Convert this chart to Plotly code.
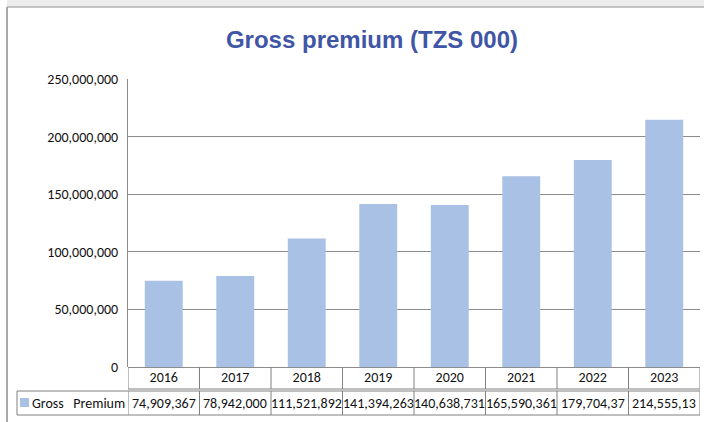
import plotly.graph_objects as go

years = ["2016", "2017", "2018", "2019", "2020", "2021", "2022", "2023"]
gross_premium = [74909367, 78942000, 111521892, 141394263, 140638731, 165590361, 179704370, 214555130]
table_labels = ["74,909,367", "78,942,000", "111,521,892", "141,394,263", "140,638,731",
                "165,590,361", "179,704,37", "214,555,13"]
series_name = "Gross\u00a0\u00a0 Premium"
y_ticks = [0, 50000000, 100000000, 150000000, 200000000, 250000000]
y_tick_text = ["0", "50,000,000", "100,000,000", "150,000,000", "200,000,000", "250,000,000"]

W, H = 704, 422
L, R, T, B = 128, 4, 79, 55
pw, ph = W - L - R, H - T - B


def px_x(p):
    return (p - L) / pw


def px_y(p):
    return (H - B - p) / ph


FONT = "Liberation Sans Narrow, Arial Narrow, Carlito, Calibri, Liberation Sans, sans-serif"
BAR = "#aac1e6"
GRID = "#8c8c8c"
TBL = "#808080"

fig = go.Figure()
fig.add_trace(go.Bar(x=years, y=gross_premium, name=series_name,
                     marker=dict(color=BAR, line=dict(width=0)), width=0.53,
                     showlegend=False))

shapes = []
# outer frame
shapes.append(dict(type="rect", xref="paper", yref="paper",
                   x0=px_x(7), x1=px_x(W), y0=px_y(0), y1=px_y(7),
                   fillcolor="#ececec", line=dict(width=0), layer="below"))
shapes.append(dict(type="line", xref="paper", yref="paper",
                   x0=px_x(7), x1=px_x(W), y0=px_y(7), y1=px_y(7),
                   line=dict(color="#b0b0b0", width=1.5)))
shapes.append(dict(type="line", xref="paper", yref="paper",
                   x0=px_x(7), x1=px_x(7), y0=px_y(7), y1=px_y(H),
                   line=dict(color="#a8a8a8", width=2)))

# data table grid
r1_top, r1_bot = px_y(367), px_y(389)
r2_top, r2_bot = px_y(391), px_y(415)
n = len(years)
for i in range(n + 1):
    xb = i - 0.5
    shapes.append(dict(type="line", xref="x", yref="paper", x0=xb, x1=xb,
                       y0=r1_top, y1=r1_bot, line=dict(color=TBL, width=1)))
    shapes.append(dict(type="line", xref="x", yref="paper", x0=xb, x1=xb,
                       y0=r2_top, y1=r2_bot, line=dict(color=TBL, width=1)))
shapes.append(dict(type="line", xref="paper", yref="paper", x0=0, x1=1,
                   y0=r1_bot, y1=r1_bot, line=dict(color=TBL, width=1)))
for yy in (r2_top, r2_bot):
    shapes.append(dict(type="line", xref="paper", yref="paper", x0=px_x(17), x1=1,
                       y0=yy, y1=yy, line=dict(color=TBL, width=1)))
shapes.append(dict(type="line", xref="paper", yref="paper", x0=px_x(17), x1=px_x(17),
                   y0=r2_top, y1=r2_bot, line=dict(color=TBL, width=1)))
# legend key
shapes.append(dict(type="rect", xref="paper", yref="paper",
                   x0=px_x(20), x1=px_x(29), y0=px_y(398), y1=px_y(407),
                   fillcolor=BAR, line=dict(width=0)))

annotations = []
row2_mid = (r2_top + r2_bot) / 2
for i, lab in enumerate(table_labels):
    annotations.append(dict(x=i, xref="x", y=row2_mid, yref="paper", text=lab,
                            showarrow=False, xanchor="center", yanchor="middle",
                            font=dict(family=FONT, size=14, color="#111111")))
annotations.append(dict(x=px_x(127), xref="paper", y=row2_mid, yref="paper",
                        text=series_name, showarrow=False, xanchor="right",
                        yanchor="middle", font=dict(family=FONT, size=14, color="#111111")))

fig.update_layout(
    width=W, height=H,
    margin=dict(l=L, r=R, t=T, b=B),
    paper_bgcolor="white", plot_bgcolor="white",
    title=dict(text="<b>Gross premium (TZS 000)</b>", x=372 / W, xref="container",
               xanchor="center", y=1 - 40 / H, yref="container", yanchor="middle",
               font=dict(family="Liberation Sans, Arial, sans-serif", size=24, color="#3f55a6")),
    xaxis=dict(type="category", categoryarray=years, categoryorder="array",
               range=[-0.5, len(years) - 0.5], autorange=False,
               showgrid=False, showline=False, ticks="",
               tickfont=dict(family=FONT, size=14, color="#111111"),
               fixedrange=True),
    yaxis=dict(range=[0, 250000000], tickvals=y_ticks, ticktext=y_tick_text,
               showgrid=True, gridcolor=GRID, gridwidth=1,
               showline=True, linecolor=GRID, linewidth=1, zeroline=True,
               zerolinecolor=GRID, zerolinewidth=1,
               ticks="", ticklabelstandoff=6,
               tickfont=dict(family=FONT, size=14, color="#111111")),
    shapes=shapes,
    annotations=annotations,
    showlegend=False,
)

fig.write_html("out.html", config={"displayModeBar": False},
               post_script="document.body.style.margin='0';document.body.style.padding='0';")
